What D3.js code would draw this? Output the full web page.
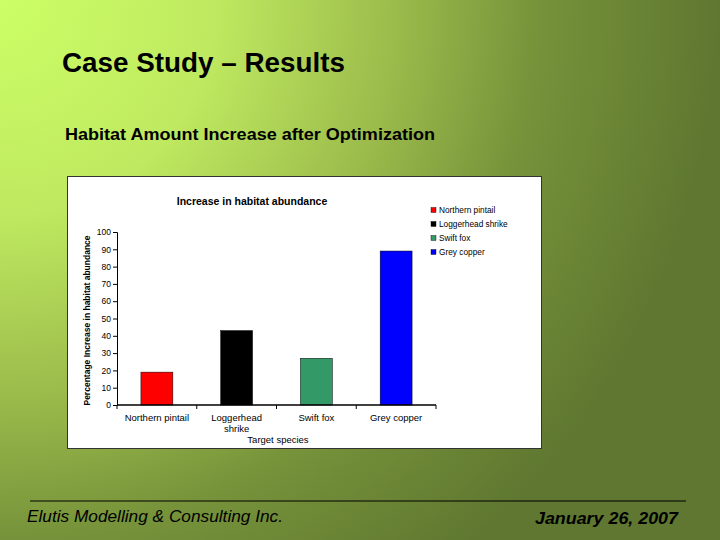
<!DOCTYPE html>
<html>
<head>
<meta charset="utf-8">
<script src="https://cdn.jsdelivr.net/npm/d3@7"></script>
<style>
  html, body { margin: 0; padding: 0; }
  svg { display: block; font-family: "Liberation Sans", Arial, sans-serif; }
</style>
</head>
<body>
<svg id="slide" width="720" height="540"></svg>
<script>
// Chart data
const species = ['Northern pintail', 'Loggerhead shrike', 'Swift fox', 'Grey copper'];
const tickLabels = [['Northern pintail'], ['Loggerhead', 'shrike'], ['Swift fox'], ['Grey copper']];
const increase = [19, 43, 27, 89];
const barColors = ['#ff0000', '#000000', '#339966', '#0000ff'];
const yTicks = [0, 10, 20, 30, 40, 50, 60, 70, 80, 90, 100];

const svg = d3.select('#slide');

// slide background: light lime in top-left fading to olive
const defs = svg.append('defs');
const grad = defs.append('radialGradient')
    .attr('id', 'bg')
    .attr('gradientUnits', 'userSpaceOnUse')
    .attr('cx', 0).attr('cy', 0).attr('r', 720);
[[0, '#ccff66'], [0.3, '#bfe960'], [0.55, '#9bbb4b'], [0.75, '#76923a'], [1, '#5f7730']]
  .forEach(s => grad.append('stop').attr('offset', s[0]).attr('stop-color', s[1]));

svg.append('rect').attr('width', 720).attr('height', 540).attr('fill', 'url(#bg)');

// slide titles
svg.append('text')
    .attr('x', 62).attr('y', 72)
    .attr('font-size', 27).attr('font-weight', 'bold')
    .attr('textLength', 283).attr('lengthAdjust', 'spacingAndGlyphs')
    .text('Case Study – Results');

svg.append('text')
    .attr('x', 65).attr('y', 140)
    .attr('font-size', 17).attr('font-weight', 'bold')
    .attr('textLength', 370).attr('lengthAdjust', 'spacingAndGlyphs')
    .text('Habitat Amount Increase after Optimization');

// footer
svg.append('line')
    .attr('x1', 30).attr('x2', 686).attr('y1', 501).attr('y2', 501)
    .attr('stroke', '#000').attr('stroke-width', 1);

svg.append('text')
    .attr('x', 27).attr('y', 522)
    .attr('font-size', 16).attr('font-style', 'italic')
    .attr('textLength', 256).attr('lengthAdjust', 'spacingAndGlyphs')
    .text('Elutis Modelling & Consulting Inc.');

svg.append('text')
    .attr('x', 535).attr('y', 524)
    .attr('font-size', 17).attr('font-style', 'italic').attr('font-weight', 'bold')
    .attr('textLength', 143).attr('lengthAdjust', 'spacingAndGlyphs')
    .text('January 26, 2007');

// chart box
svg.append('rect')
    .attr('x', 67.5).attr('y', 176.5).attr('width', 474).attr('height', 272)
    .attr('fill', '#fff').attr('stroke', '#333').attr('stroke-width', 1);

const chart = svg.append('g');

// scales
const xScale = d3.scaleBand()
    .domain(species)
    .range([117, 436])
    .paddingInner(0.6)
    .paddingOuter(0.3);

const yScale = d3.scaleLinear()
    .domain([0, 100])
    .range([405, 232]);

// bars
chart.selectAll('rect.bar')
    .data(species)
    .join('rect')
    .attr('class', 'bar')
    .attr('x', d => xScale(d))
    .attr('y', (d, i) => yScale(increase[i]))
    .attr('width', xScale.bandwidth())
    .attr('height', (d, i) => yScale(0) - yScale(increase[i]))
    .attr('fill', (d, i) => barColors[i])
    .attr('stroke', '#000')
    .attr('stroke-width', 0.5);

// y axis
const yAxisG = chart.append('g')
    .attr('transform', 'translate(117,0)')
    .call(d3.axisLeft(yScale).tickValues(yTicks).tickSize(4).tickPadding(2));
yAxisG.select('.domain').attr('stroke', '#000');
yAxisG.selectAll('text')
    .attr('font-size', 8.5)
    .attr('font-family', '"Liberation Sans", Arial, sans-serif')
    .attr('fill', '#000');

// x axis: tick marks sit between the categories
const step = xScale.step();
const x0 = xScale.range()[0];
const xAxisG = chart.append('g');
xAxisG.append('line')
    .attr('x1', x0).attr('x2', xScale.range()[1])
    .attr('y1', yScale(0)).attr('y2', yScale(0))
    .attr('stroke', '#000').attr('stroke-width', 1.6);
xAxisG.selectAll('line.sep')
    .data(d3.range(species.length + 1))
    .join('line')
    .attr('class', 'sep')
    .attr('x1', i => x0 + i * step).attr('x2', i => x0 + i * step)
    .attr('y1', yScale(0)).attr('y2', yScale(0) + 4)
    .attr('stroke', '#000');

xAxisG.selectAll('text.cat')
    .data(species)
    .join('text')
    .attr('class', 'cat')
    .attr('x', d => xScale(d) + xScale.bandwidth() / 2)
    .attr('y', yScale(0) + 16)
    .attr('text-anchor', 'middle')
    .attr('font-size', 9.5)
    .each(function(d, i) {
      d3.select(this).selectAll('tspan')
        .data(tickLabels[i])
        .join('tspan')
        .attr('x', xScale(d) + xScale.bandwidth() / 2)
        .attr('dy', (t, j) => j === 0 ? 0 : 11)
        .text(t => t);
    });

// axis titles
chart.append('text')
    .attr('x', 278).attr('y', 443)
    .attr('text-anchor', 'middle')
    .attr('font-size', 9.5)
    .text('Target species');

chart.append('text')
    .attr('transform', `translate(90,${(yScale(0) + yScale(100)) / 2 + 2}) rotate(-90)`)
    .attr('text-anchor', 'middle')
    .attr('font-size', 8.5).attr('font-weight', 'bold')
    .text('Percentage Increase in habitat abundance');

chart.append('text')
    .attr('x', 252).attr('y', 205)
    .attr('text-anchor', 'middle')
    .attr('font-size', 10.5).attr('font-weight', 'bold')
    .text('Increase in habitat abundance');

// legend
const legend = chart.selectAll('g.legend')
    .data(species)
    .join('g')
    .attr('class', 'legend')
    .attr('transform', (d, i) => `translate(431,${210 + i * 14})`);
legend.append('rect')
    .attr('x', 0).attr('y', -2.5).attr('width', 5).attr('height', 5)
    .attr('fill', (d, i) => barColors[i])
    .attr('stroke', '#000').attr('stroke-width', 0.4);
legend.append('text')
    .attr('x', 8).attr('y', 3)
    .attr('font-size', 8.3)
    .text(d => d);
</script>
</body>
</html>
